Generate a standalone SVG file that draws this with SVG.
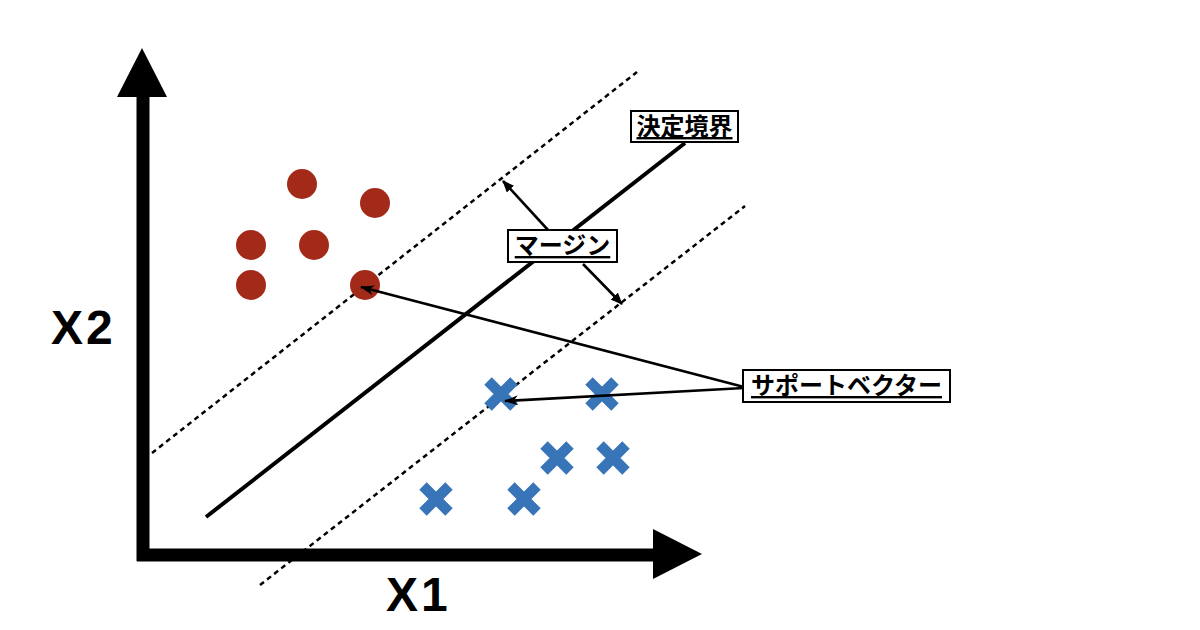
<svg xmlns="http://www.w3.org/2000/svg" width="1200" height="630" viewBox="0 0 1200 630">
<style>
.axis{stroke:#000;stroke-width:13;fill:none}
.head{fill:#000}
.ax-label{font-family:"Liberation Sans",Arial,sans-serif;font-weight:bold;font-size:48px;letter-spacing:3px;fill:#000}
.dot{fill:#A32A19}
.cross{stroke:#3874B8;stroke-width:10.5;fill:none}
.boundary{stroke:#000;stroke-width:4;fill:none}
.margin{stroke:#000;stroke-width:2.5;stroke-dasharray:5 4;fill:none}
.arrow{stroke:#000;stroke-width:2.6;fill:none}
.box{fill:#fff;stroke:#000;stroke-width:2}
.lbl{font-family:"Noto Sans CJK JP",sans-serif;font-weight:bold;font-size:24px;fill:#000;text-decoration:underline}
</style>
<defs>
<marker id="ah" viewBox="0 0 12 10" refX="11" refY="5" markerWidth="12" markerHeight="10" markerUnits="userSpaceOnUse" orient="auto">
<path d="M0,0 L12,5 L0,10 Z" fill="#000"/>
</marker>
<marker id="ah2" viewBox="0 0 14 10" refX="13" refY="5" markerWidth="14" markerHeight="10" markerUnits="userSpaceOnUse" orient="auto">
<path d="M0,0 L14,5 L0,10 L4,5 Z" fill="#000"/>
</marker>
</defs>

<g id="axes">
<line class="axis" x1="143" y1="95" x2="143" y2="561"/>
<polygon class="head" points="142,48 117,97 167,97"/>
<line class="axis" x1="137" y1="555" x2="655" y2="555"/>
<polygon class="head" points="653,529 702,554 653,579"/>
<text class="ax-label" x="51" y="344">X2</text>
<text class="ax-label" x="386" y="611">X1</text>
</g>

<g id="lines">
<line class="margin" x1="152" y1="453" x2="637" y2="72"/>
<line class="margin" x1="260" y1="585" x2="745" y2="206"/>
<line class="boundary" x1="206" y1="517" x2="685" y2="143"/>
</g>

<g id="class-red">
<circle class="dot" cx="302" cy="184" r="15"/>
<circle class="dot" cx="375" cy="203" r="15"/>
<circle class="dot" cx="251" cy="245" r="15"/>
<circle class="dot" cx="314" cy="245" r="15"/>
<circle class="dot" cx="251" cy="285" r="15"/>
<circle class="dot" cx="365" cy="285" r="15"/>
</g>

<g id="class-blue">
<path class="cross" d="M488,381 L514,407 M514,381 L488,407"/>
<path class="cross" d="M589,381 L615,407 M615,381 L589,407"/>
<path class="cross" d="M544,445 L570,471 M570,445 L544,471"/>
<path class="cross" d="M600,445 L626,471 M626,445 L600,471"/>
<path class="cross" d="M423,486 L449,512 M449,486 L423,512"/>
<path class="cross" d="M511,486 L537,512 M537,486 L511,512"/>
</g>

<g id="connectors">
<line class="arrow" x1="548" y1="230" x2="503" y2="181" marker-end="url(#ah)"/>
<line class="arrow" x1="583" y1="264" x2="622" y2="304" marker-end="url(#ah)"/>
<line class="arrow" x1="744" y1="387" x2="361" y2="287" marker-end="url(#ah2)"/>
<line class="arrow" x1="744" y1="388" x2="505" y2="401" marker-end="url(#ah2)"/>
</g>

<g id="label-boundary">
<rect class="box" x="631" y="111" width="107" height="31"/>
<text class="lbl" x="684.5" y="135" text-anchor="middle">決定境界</text>
</g>

<g id="label-margin">
<rect class="box" x="508" y="230" width="109" height="32"/>
<text class="lbl" x="562.5" y="254" text-anchor="middle">マージン</text>
</g>

<g id="label-sv">
<rect class="box" x="743" y="370" width="207" height="32"/>
<text class="lbl" x="846.5" y="394" text-anchor="middle">サポートベクター</text>
</g>
</svg>
